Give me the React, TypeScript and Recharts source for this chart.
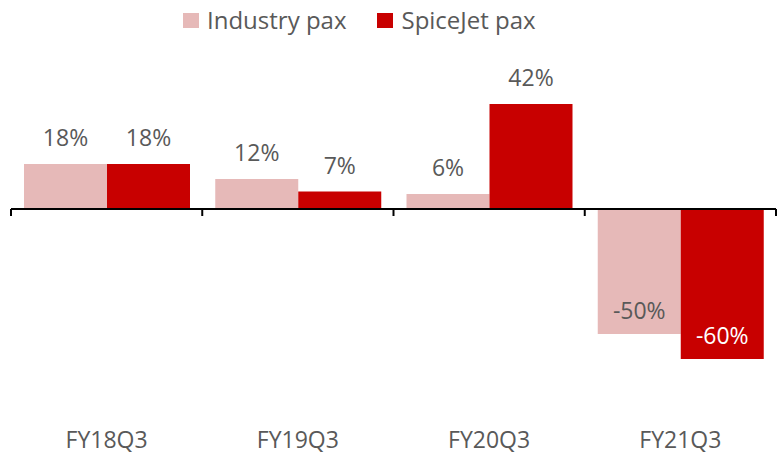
import React from 'react';
import { BarChart, Bar, XAxis, YAxis, Legend, ReferenceLine, LabelList } from 'recharts';

const categories = ['FY18Q3', 'FY19Q3', 'FY20Q3', 'FY21Q3'];
const industryPax = [18, 12, 6, -50];
const spicejetPax = [18, 7, 42, -60];
const seriesNames = ['Industry pax', 'SpiceJet pax'];

const data = categories.map((c, i) => ({ category: c, industry: industryPax[i], spicejet: spicejetPax[i] }));

const FONT = '"Open Sans", sans-serif';
const FS = 23;
const LEGEND_FS = 24;
const TEXT = '#595959';
const PINK = '#E6B9B8';
const RED = '#C80000';

const ZeroAxis = (props: any) => {
  const { x1, y1, x2, y2 } = props;
  const n = categories.length;
  const step = (x2 - x1) / n;
  return (
    <g>
      <line x1={x1} y1={y1} x2={x2} y2={y2} stroke="#000" strokeWidth={2} />
      {Array.from({ length: n + 1 }).map((_, i) => (
        <line key={i} x1={x1 + i * step} x2={x1 + i * step} y1={y1} y2={y1 + 7} stroke="#000" strokeWidth={2} />
      ))}
    </g>
  );
};

const makeLabel = (negColor: string) => (props: any) => {
  const { x, y, width, height, value } = props;
  const top = Math.min(y, y + height);
  const bottom = Math.max(y, y + height);
  const cx = x + width / 2;
  const cy = value >= 0 ? top - 27 : bottom - 24;
  return (
    <text x={cx} y={cy} textAnchor="middle" dominantBaseline="central" fill={value >= 0 ? TEXT : negColor} fontFamily={FONT} fontSize={FS}>
      {value}%
    </text>
  );
};

const LegendContent = () => (
  <div style={{ height: 40, display: 'flex', alignItems: 'center', paddingLeft: 183, fontFamily: FONT, fontSize: LEGEND_FS, color: TEXT, lineHeight: 1 }}>
    <span style={{ width: 16, height: 15, background: PINK, display: 'inline-block', marginRight: 8 }} />
    <span style={{ marginRight: 31 }}>{seriesNames[0]}</span>
    <span style={{ width: 16, height: 15, background: RED, display: 'inline-block', marginRight: 8 }} />
    <span>{seriesNames[1]}</span>
  </div>
);

export default function App() {
  return (
    <div style={{ position: 'absolute', left: 0, top: 0, background: '#fff' }}>
      <BarChart width={777} height={454} data={data} margin={{ top: 19, right: 1, left: 11, bottom: 0 }} barCategoryGap={13} barGap={0}>
        <Legend verticalAlign="top" wrapperStyle={{ top: 0, left: 0, width: 777 }} content={<LegendContent />} />
        <YAxis hide domain={[-80, 60]} />
        <XAxis dataKey="category" axisLine={false} tickLine={false} height={45} tickMargin={17}
          tick={{ fill: TEXT, fontFamily: FONT, fontSize: FS }} interval={0} />
        <Bar dataKey="industry" name={seriesNames[0]} fill={PINK} isAnimationActive={false}>
          <LabelList dataKey="industry" content={makeLabel(TEXT)} />
        </Bar>
        <Bar dataKey="spicejet" name={seriesNames[1]} fill={RED} isAnimationActive={false}>
          <LabelList dataKey="spicejet" content={makeLabel('#FFFFFF')} />
        </Bar>
        <ReferenceLine y={0} shape={ZeroAxis} />
      </BarChart>
    </div>
  );
}
